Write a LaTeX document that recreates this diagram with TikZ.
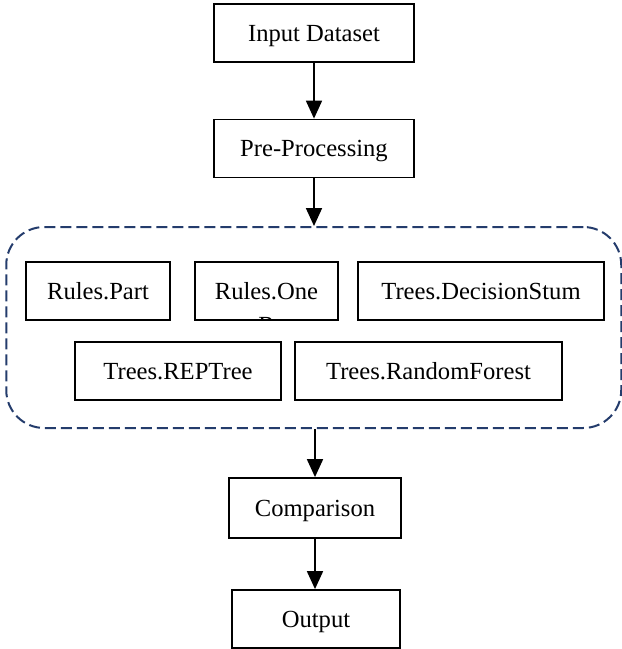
\documentclass[tikz,border=0pt]{standalone}
\usepackage{fontspec}
\setmainfont{Liberation Serif}
\usetikzlibrary{arrows.meta}
\definecolor{groupblue}{RGB}{36,60,108}
\begin{document}
\begin{tikzpicture}[x=0.5pt,y=-0.5pt]
	\tikzset{stepbox/.style={draw,line width=0.9pt,minimum height=29pt,inner sep=0pt,text height=9pt,text depth=1pt,font=\fontsize{12.3}{15}\selectfont},
		group/.style={draw=groupblue,line width=1pt,dash pattern=on 5.5pt off 2.5pt,rounded corners=19pt,minimum width=307.5pt,minimum height=100.5pt},
		flow/.style={line width=0.9pt,-{Triangle[width=8pt,length=9pt]}}}
	\useasboundingbox (0,0) rectangle (622,649);
	% main chain
	\node [stepbox,minimum width=100pt] (input) at (314,33) {Input Dataset};
	\node [stepbox,minimum width=100pt] (pre) at (314,148.5) {Pre-Processing};
	\node [group] (models) at (313.75,327.5) {};
	\node [stepbox,minimum width=86pt,minimum height=30pt] (comp) at (315,508) {Comparison};
	\node [stepbox,minimum width=84pt] (out) at (316,619) {Output};
	% classifiers
	\node [stepbox,minimum width=72pt] (part) at (98,291) {Rules.Part};
	\node [stepbox,minimum width=71.5pt,path picture={\node[anchor=base] at ([yshift=-21pt]path picture bounding box.center) {R};}] (oner) at (266.5,291) {Rules.One};
	\node [stepbox,minimum width=123pt] (stump) at (481,291) {Trees.DecisionStum};
	\node [stepbox,minimum width=103pt] (rep) at (178,371) {Trees.REPTree};
	\node [stepbox,minimum width=133.5pt] (forest) at (428.5,371) {Trees.RandomForest};
	% arrows
	\draw [flow] (input) -- (pre);
	\draw [flow] (pre) -- (pre |- models.north);
	\draw [flow] (comp |- models.south) -- (comp);
	\draw [flow] (comp) -- (comp |- out.north);
\end{tikzpicture}
\end{document}
